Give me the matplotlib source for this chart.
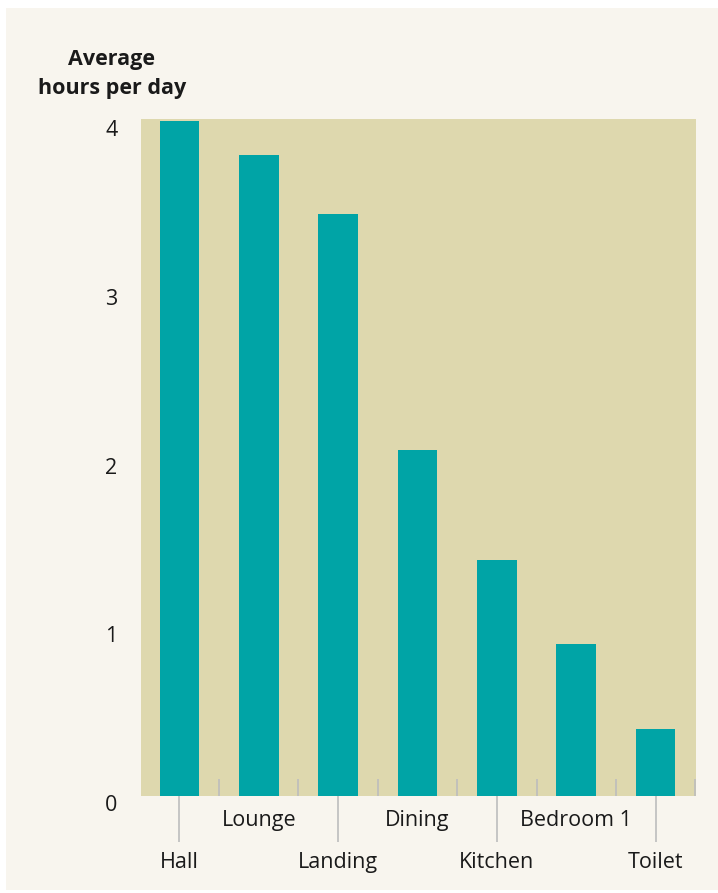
import matplotlib
matplotlib.use("Agg")
import matplotlib.pyplot as plt
from matplotlib.patches import Rectangle
from matplotlib.transforms import ScaledTranslation
import numpy as np

plt.rcParams['font.family'] = ['Open Sans', 'DejaVu Sans']

rooms = ["Hall", "Lounge", "Landing", "Dining", "Kitchen", "Bedroom 1", "Toilet"]
hours = [4.0, 3.8, 3.45, 2.05, 1.4, 0.9, 0.4]
yticks = [0, 1, 2, 3, 4]

bar_col = "#00A4A6"
plot_bg = "#DED8AE"
panel_bg = "#F8F5EE"
grey = "#BDBDBD"
txt = "#1a1a1a"

W, H = 718, 893
fig = plt.figure(figsize=(W / 100, H / 100), dpi=100, facecolor="white")

# cream panel with thin white border
fig.patches.append(Rectangle((6 / W, (H - 890) / H), (W - 6) / W, (890 - 8) / H,
                             transform=fig.transFigure, facecolor=panel_bg,
                             edgecolor="none", zorder=-5))

ax = fig.add_axes([141 / W, (H - 796) / H, (696 - 141) / W, (796 - 119) / H])
ax.set_zorder(2)
ax.set_facecolor(plot_bg)

x = np.arange(len(rooms))
ax.bar(x, hours, width=0.5, color=bar_col, zorder=2)

ax.set_xlim(-0.485, 6.51)
ax.set_ylim(0, 4.012)
for s in ax.spines.values():
    s.set_visible(False)

# y axis
ax.set_yticks(yticks)
ax.set_yticklabels([str(v) for v in yticks], fontsize=15.5, color=txt)
ax.tick_params(axis="y", length=0, pad=17)
for lab in ax.get_yticklabels():
    lab.set_transform(lab.get_transform() + ScaledTranslation(0, -0.07, fig.dpi_scale_trans))

# x axis: separators between bars (inside), long ticks for lower-row labels
ax.set_xticks(x + 0.5, minor=True)
ax.tick_params(axis="x", which="minor", direction="in", length=12.2, width=1.2, color=grey)
ax.set_xticks(x)
ax.set_xticklabels([])
ax.tick_params(axis="x", which="major", direction="out", length=33, width=1.2, color=grey)
for i, t in enumerate(ax.xaxis.get_major_ticks()):
    if i % 2 == 1:
        t.tick1line.set_markersize(0)

for i, r in enumerate(rooms):
    off = -17.5 if i % 2 == 1 else -48
    ax.annotate(r, xy=(x[i], 0), xycoords=("data", "axes fraction"),
                xytext=(0, off), textcoords="offset points",
                ha="center", va="center", fontsize=15.5, color=txt,
                annotation_clip=False)

fig.text(112 / W, 1 - 74 / H, "Average\nhours per day", ha="center", va="center",
         fontsize=15.5, fontweight="bold", color=txt, linespacing=1.55)

fig.savefig("out.png", dpi=100, facecolor=fig.get_facecolor())
